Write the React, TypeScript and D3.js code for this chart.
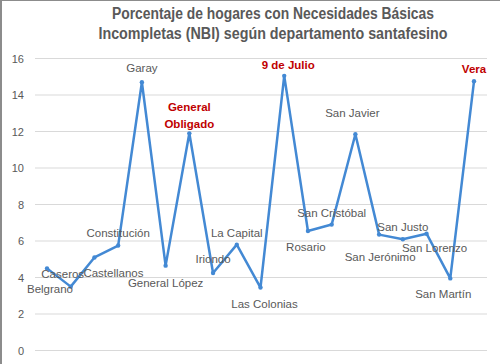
import * as d3 from 'd3';

// departamentos in chart order
const departments = [
  'Belgrano', 'Caseros', 'Castellanos', 'Constitución', 'Garay', 'General López',
  'General Obligado', 'Iriondo', 'La Capital', 'Las Colonias', '9 de Julio', 'Rosario',
  'San Cristóbal', 'San Javier', 'San Jerónimo', 'San Justo', 'San Lorenzo', 'San Martín', 'Vera',
];
const nbiValues = [
  4.5, 3.5, 5.1, 5.75, 14.7, 4.65, 11.9, 4.25, 5.8, 3.45, 15.05, 6.55,
  6.9, 11.85, 6.35, 6.1, 6.4, 3.95, 14.75,
];
const highlighted = ['General Obligado', '9 de Julio', 'Vera'];
const yTicks = [0, 2, 4, 6, 8, 10, 12, 14, 16];
const titleLines = [
  'Porcentaje de hogares con Necesidades Básicas',
  'Incompletas (NBI) según departamento santafesino',
];

// label offsets (dx, dy) from each point, as in the original chart
const labelOffsets: [number, number][] = [
  [3, 21], [-8, -13], [19, 16], [0, -13], [0, -14], [0, 17], [0, -18], [0, -14],
  [0, -12], [4, 16], [4, -11], [-2, 16], [0, -12], [-3, -21], [1, 22], [0, -12],
  [8, 14], [-7, 16], [0, -12],
];

const W = 500;
const H = 364;
const font = 'Liberation Sans, Arial, sans-serif';

export default function App() {
  const x = d3.scalePoint<string>().domain(departments).range([47, 474]);
  const y = d3.scaleLinear().domain([0, 16]).range([350.5, 58.5]);

  const line = d3
    .line<number>()
    .x((_, i) => x(departments[i]) as number)
    .y((d) => y(d));

  return (
    <svg width={W} height={H} style={{ position: 'absolute', left: 0, top: 0, background: '#fff' }}>
      {/* frame */}
      <line x1={0} y1={0.5} x2={W} y2={0.5} stroke="#8c8c8c" />
      <line x1={1} y1={0} x2={1} y2={H} stroke="#8c8c8c" strokeWidth={2} />

      {/* title */}
      {titleLines.map((t, i) => (
        <text
          key={t}
          x={273}
          y={19 + i * 20}
          textAnchor="middle"
          fontFamily="Liberation Sans Narrow, Arial Narrow, Liberation Sans, sans-serif"
          fontWeight="bold"
          fontSize={16}
          fill="#595959"
          textLength={i === 0 ? 322 : 349}
          lengthAdjust="spacingAndGlyphs"
        >
          {t}
        </text>
      ))}

      {/* grid + y ticks */}
      {yTicks.map((t) => (
        <g key={t}>
          <line x1={35} x2={487} y1={y(t)} y2={y(t)} stroke="#d9d9d9" strokeWidth={1} />
          <text x={24} y={y(t) + 4} textAnchor="end" fontFamily={font} fontSize={11} fill="#595959">
            {t}
          </text>
        </g>
      ))}

      {/* series */}
      <path d={line(nbiValues) ?? ''} fill="none" stroke="#4389d4" strokeWidth={2.5} strokeLinejoin="round" />
      {nbiValues.map((v, i) => (
        <circle key={departments[i]} cx={x(departments[i])} cy={y(v)} r={2.2} fill="#4389d4" />
      ))}

      {/* data labels */}
      {departments.map((name, i) => {
        const px = x(name) as number;
        const py = y(nbiValues[i]);
        const [dx, dy] = labelOffsets[i];
        const hot = highlighted.includes(name);
        const parts = name === 'General Obligado' ? ['General', 'Obligado'] : [name];
        return (
          <text
            key={name}
            x={px + dx}
            textAnchor="middle"
            fontFamily={font}
            fontSize={11.5}
            fontWeight={hot ? 'bold' : 'normal'}
            fill={hot ? '#c00000' : '#595959'}
          >
            {parts.map((p, k) => (
              <tspan key={p} x={px + dx} y={py + dy + 4 + (k - (parts.length - 1) / 2) * 16.5}>
                {p}
              </tspan>
            ))}
          </text>
        );
      })}
    </svg>
  );
}
